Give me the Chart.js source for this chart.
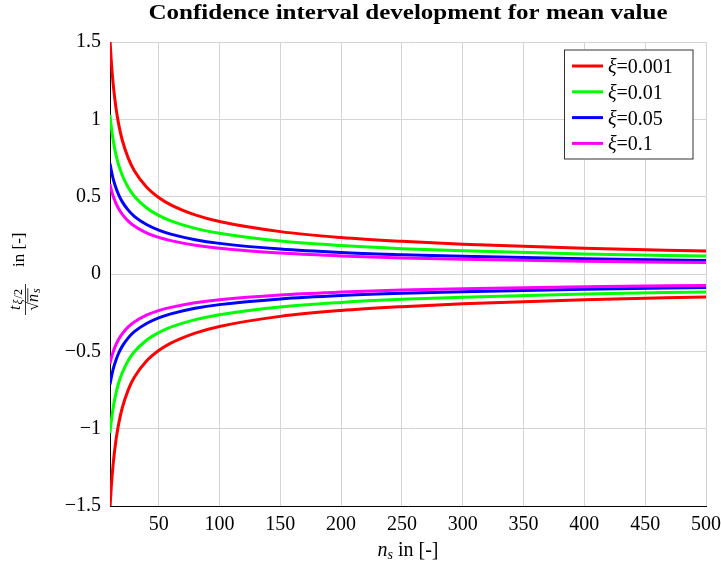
<!DOCTYPE html>
<html>
<head>
<meta charset="utf-8">
<script src="https://cdn.jsdelivr.net/npm/chart.js@4/dist/chart.umd.min.js"></script>
<style>
  html, body { margin: 0; padding: 0; background: #fff; }
  #wrap { width: 721px; height: 572px; }
</style>
</head>
<body>
<div id="wrap"><canvas id="chartIntervalo"></canvas></div>
<script>
"use strict";

// sample sizes n_s (x axis)
const nValues = [10, 11, 12, 13, 15, 17, 20, 25, 30, 40, 50, 60, 80, 100, 150, 200, 250, 300, 400, 500];

// upper branch
const upper0001 = [1.512, 1.383, 1.281, 1.198, 1.069, 0.974, 0.868, 0.749, 0.668, 0.563, 0.495, 0.447, 0.382, 0.339, 0.274, 0.236, 0.211, 0.192, 0.166, 0.148];
const upper001  = [1.028, 0.955, 0.897, 0.847, 0.769, 0.708, 0.640, 0.559, 0.503, 0.428, 0.379, 0.344, 0.295, 0.263, 0.213, 0.184, 0.164, 0.150, 0.129, 0.116];
const upper005  = [0.715, 0.672, 0.635, 0.604, 0.554, 0.514, 0.468, 0.413, 0.373, 0.320, 0.284, 0.258, 0.222, 0.198, 0.161, 0.139, 0.125, 0.114, 0.098, 0.088];
const upper01   = [0.580, 0.546, 0.518, 0.494, 0.455, 0.423, 0.387, 0.342, 0.310, 0.266, 0.237, 0.216, 0.186, 0.166, 0.135, 0.117, 0.104, 0.095, 0.082, 0.074];

// lower branch
const lower0001 = [-1.512, -1.383, -1.281, -1.198, -1.069, -0.974, -0.868, -0.749, -0.668, -0.563, -0.495, -0.447, -0.382, -0.339, -0.274, -0.236, -0.211, -0.192, -0.166, -0.148];
const lower001  = [-1.028, -0.955, -0.897, -0.847, -0.769, -0.708, -0.640, -0.559, -0.503, -0.428, -0.379, -0.344, -0.295, -0.263, -0.213, -0.184, -0.164, -0.150, -0.129, -0.116];
const lower005  = [-0.715, -0.672, -0.635, -0.604, -0.554, -0.514, -0.468, -0.413, -0.373, -0.320, -0.284, -0.258, -0.222, -0.198, -0.161, -0.139, -0.125, -0.114, -0.098, -0.088];
const lower01   = [-0.580, -0.546, -0.518, -0.494, -0.455, -0.423, -0.387, -0.342, -0.310, -0.266, -0.237, -0.216, -0.186, -0.166, -0.135, -0.117, -0.104, -0.095, -0.082, -0.074];

const xiLabels = ["0.001", "0.01", "0.05", "0.1"];
const xTicks = [50, 100, 150, 200, 250, 300, 350, 400, 450, 500];
const yTicks = [-1.5, -1, -0.5, 0, 0.5, 1, 1.5];

const chartTitle = "Confidence interval development for mean value";

const colores = ["#ff0000", "#00ff00", "#0000ff", "#ff00ff"];
const SERIF = "'Liberation Serif', 'Times New Roman', serif";

function puntos(ys) {
  return nValues.map((n, i) => ({ x: n, y: ys[i] }));
}

const upperSets = [upper0001, upper001, upper005, upper01];
const lowerSets = [lower0001, lower001, lower005, lower01];

const datasets = [];
upperSets.forEach((ys, i) => {
  datasets.push({ label: xiLabels[i], data: puntos(ys), borderColor: colores[i], enLeyenda: true });
});
lowerSets.forEach((ys, i) => {
  datasets.push({ label: xiLabels[i] + " (lower)", data: puntos(ys), borderColor: colores[i], enLeyenda: false });
});
datasets.forEach((d, i) => {
  d.borderWidth = 3;
  d.pointRadius = 0;
  d.fill = false;
  d.cubicInterpolationMode = "monotone";
  d.order = -i; // pgfplots draws later series on top
});

// draw a sequence of text pieces with different fonts
function drawRuns(ctx, runs, x, y) {
  let cx = x;
  for (const r of runs) {
    ctx.font = r.font;
    ctx.fillText(r.text, cx, y + (r.dy || 0));
    cx += ctx.measureText(r.text).width + (r.gap || 0);
  }
  return cx - x;
}
function runsWidth(ctx, runs) {
  let w = 0;
  for (const r of runs) {
    ctx.font = r.font;
    w += ctx.measureText(r.text).width + (r.gap || 0);
  }
  return w;
}

/* Titulo, etiquetas de ejes y leyenda */
const decoraciones = {
  id: "decoraciones",
  afterDraw(chart) {
    const ctx = chart.ctx;
    const area = chart.chartArea;
    const cx = (area.left + area.right) / 2;
    ctx.save();
    ctx.fillStyle = "#000";
    ctx.textBaseline = "alphabetic";

    // title (stretched a bit to look like CM bold)
    ctx.font = "bold 20px " + SERIF;
    const tw = ctx.measureText(chartTitle).width;
    const escala = 519 / tw;
    ctx.save();
    ctx.translate(cx, 18.5);
    ctx.scale(escala, 1);
    ctx.textAlign = "center";
    ctx.fillText(chartTitle, 0, 0);
    ctx.restore();
    ctx.textAlign = "left";

    // x axis label: n_s in [-]
    const xRuns = [
      { text: "n", font: "italic 20px " + SERIF },
      { text: "s", font: "italic 14px " + SERIF, dy: 3 },
      { text: " in [-]", font: "20px " + SERIF },
    ];
    drawRuns(ctx, xRuns, cx - runsWidth(ctx, xRuns) / 2, 556);

    // y axis label: t_{xi/2}/sqrt(n_s) in [-]
    ctx.save();
    ctx.translate(24, 273);
    ctx.rotate(-Math.PI / 2);
    const num = [
      { text: "t", font: "italic 16px " + SERIF, gap: 1 },
      { text: "ξ", font: "italic 12px " + SERIF, dy: 2, gap: 1 },
      { text: "/2", font: "12px " + SERIF, dy: 2 },
    ];
    const den = [
      { text: "√", font: "16px " + SERIF },
      { text: "n", font: "italic 16px " + SERIF, gap: 1 },
      { text: "s", font: "italic 12px " + SERIF, dy: 2 },
    ];
    const fx = -42, fracW = 31;
    drawRuns(ctx, num, fx + (fracW - runsWidth(ctx, num)) / 2, -4);
    const dx = fx + (fracW - runsWidth(ctx, den)) / 2;
    drawRuns(ctx, den, dx, 14);
    ctx.font = "16px " + SERIF;
    const sqW = ctx.measureText("√").width;
    ctx.lineWidth = 0.8;
    ctx.strokeStyle = "#000";
    ctx.beginPath();
    ctx.moveTo(fx, 1.5);
    ctx.lineTo(fx + fracW, 1.5);
    ctx.moveTo(dx + sqW - 0.5, 3.8);
    ctx.lineTo(dx + runsWidth(ctx, den), 3.8);
    ctx.stroke();
    drawRuns(ctx, [{ text: "in [-]", font: "17px " + SERIF }], 6, 0);
    ctx.restore();

    // legend box in the upper right corner
    const bx = 564, by = 49.5, bw = 129.5, bh = 110;
    ctx.fillStyle = "#fff";
    ctx.fillRect(bx, by, bw, bh);
    ctx.strokeStyle = "#333";
    ctx.lineWidth = 1;
    ctx.strokeRect(bx + 0.5, by + 0.5, bw - 1, bh - 1);
    let fila = 0;
    chart.data.datasets.forEach((d) => {
      if (!d.enLeyenda) return;
      const y = 66 + fila * 25.8;
      ctx.strokeStyle = d.borderColor;
      ctx.lineWidth = 3;
      ctx.beginPath();
      ctx.moveTo(572, y);
      ctx.lineTo(603, y);
      ctx.stroke();
      ctx.fillStyle = "#000";
      drawRuns(ctx, [
        { text: "ξ", font: "italic 20px " + SERIF },
        { text: "=" + d.label, font: "20px " + SERIF },
      ], 608, y + 7);
      fila++;
    });
    ctx.restore();
  },
};

const ctxIntervalo = document.getElementById("chartIntervalo");
const graficoIntervalo = new Chart(ctxIntervalo, {
  type: "line",
  data: { datasets: datasets },
  options: {
    responsive: true,
    maintainAspectRatio: false,
    animation: false,
    layout: { padding: { left: 0, right: 15, top: 42, bottom: 0 } },
    plugins: {
      legend: { display: false },
      title: { display: false },
      tooltip: { enabled: false },
    },
    scales: {
      x: {
        type: "linear",
        min: 10,
        max: 500,
        afterBuildTicks: (scale) => { scale.ticks = xTicks.map((v) => ({ value: v })); },
        afterFit: (scale) => {
          scale.height = 66;
          scale.paddingLeft = 0;
          scale.paddingRight = 0;
        },
        grid: { color: "#d4d4d4", lineWidth: 1, drawTicks: false },
        border: { display: true, color: "#000", width: 1 },
        ticks: {
          color: "#000",
          padding: 7,
          maxRotation: 0,
          font: { family: SERIF, size: 20 },
        },
      },
      y: {
        type: "linear",
        min: -1.5,
        max: 1.5,
        afterBuildTicks: (scale) => { scale.ticks = yTicks.map((v) => ({ value: v })); },
        afterFit: (scale) => {
          scale.width = 110;
          scale.paddingTop = 0;
          scale.paddingBottom = 0;
        },
        grid: { color: "#d4d4d4", lineWidth: 1, drawTicks: false },
        border: { display: true, color: "#000", width: 1 },
        ticks: {
          color: "#000",
          padding: 9,
          font: { family: SERIF, size: 20 },
          callback: (v) => String(v).replace("-", "\u2212"),
        },
      },
    },
  },
  plugins: [decoraciones],
});
</script>
</body>
</html>
